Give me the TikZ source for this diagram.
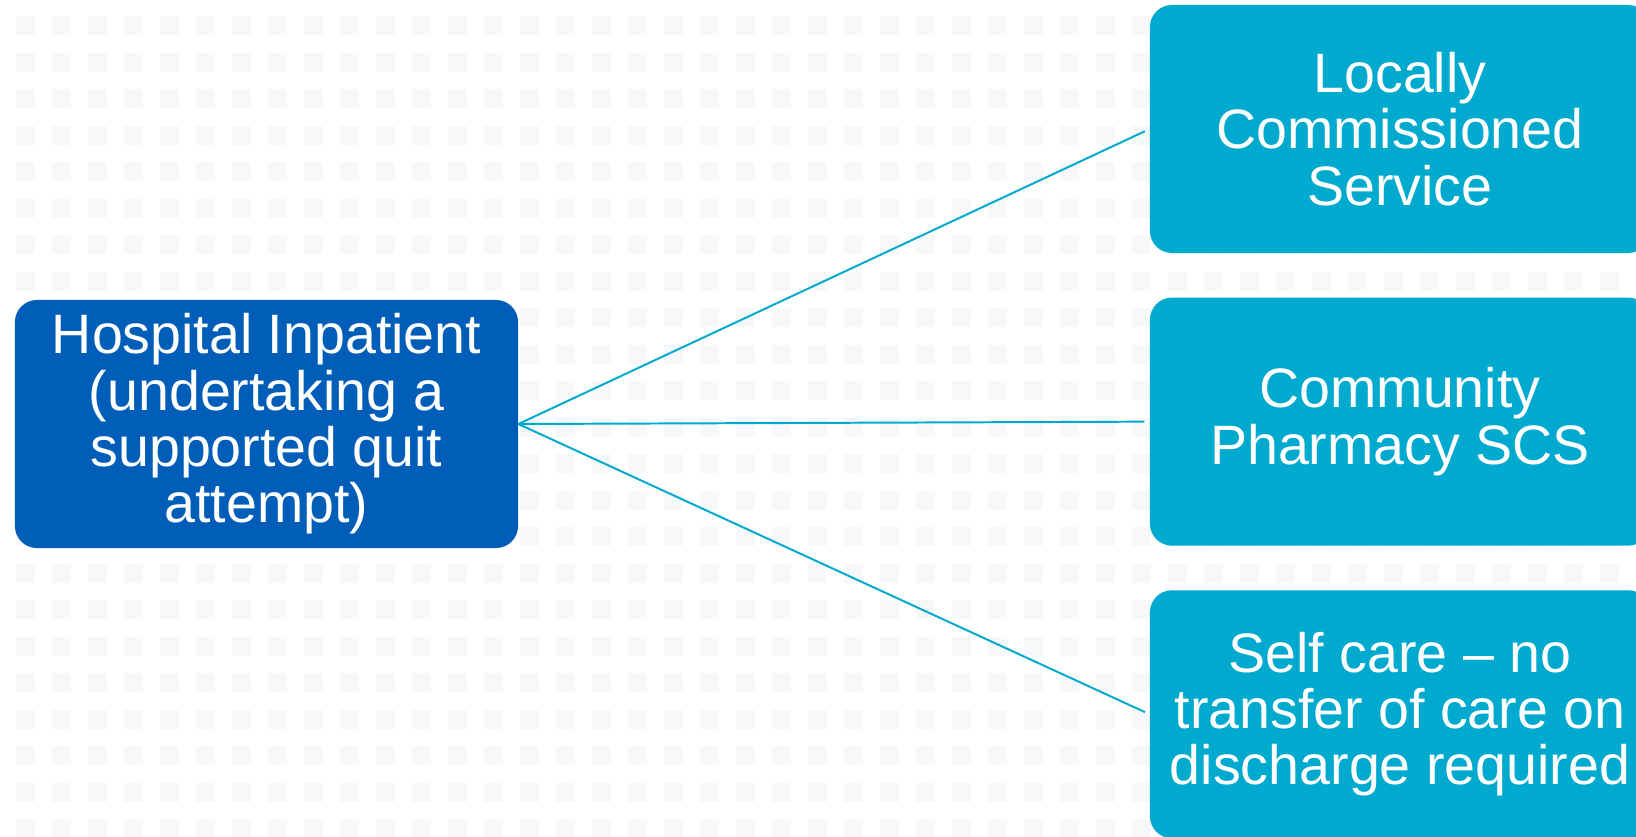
\documentclass[tikz,border=0pt]{standalone}
\usepackage{fontspec}
\setmainfont{Liberation Sans}
\usetikzlibrary{positioning}

\definecolor{nhsblue}{HTML}{005EB8}
\definecolor{nhscyan}{HTML}{00A9CE}
\definecolor{dotgrey}{HTML}{F6F8FA}

\begin{document}
\begin{tikzpicture}[x=0.025cm, y=-0.025cm,
        patientbox/.style={fill=nhsblue, text=white, rounded corners=0.55cm,
            minimum width=12.575cm, minimum height=6.2cm, align=center,
            font=\fontsize{39.5}{40}\selectfont},
        servicebox/.style={fill=nhscyan, text=white, rounded corners=0.55cm,
            minimum width=12.5cm, minimum height=6.2cm, align=center,
            font=\fontsize{39.5}{40}\selectfont},
        link/.style={nhscyan, line width=1.4pt, shorten >=0.13cm}]
        \clip (0,0) rectangle (1636,836);
        \fill[white] (0,0) rectangle (1636,836);

        % faint square pattern in the background
        \foreach \i in {0,...,44}
            \foreach \j in {0,...,22}
                \fill[dotgrey] ({16+36*\i},{16+36.5*\j}) rectangle +(19,19);

        \node[patientbox] (patient) at (266.5,424) {Hospital Inpatient\\(undertaking a\\supported quit\\attempt)};

        \node[servicebox] (local) at (1400,129) {Locally\\Commissioned\\Service};
        \node[servicebox, below=1.1cm of local] (pharmacy) {Community\\Pharmacy SCS};
        \node[servicebox, below=1.1cm of pharmacy] (selfcare) {Self care -- no\\transfer of care on\\discharge required};

        \draw[link] (patient.east) -- (local.west);
        \draw[link] (patient.east) -- (pharmacy.west);
        \draw[link] (patient.east) -- (selfcare.west);
    \end{tikzpicture}
\end{document}
